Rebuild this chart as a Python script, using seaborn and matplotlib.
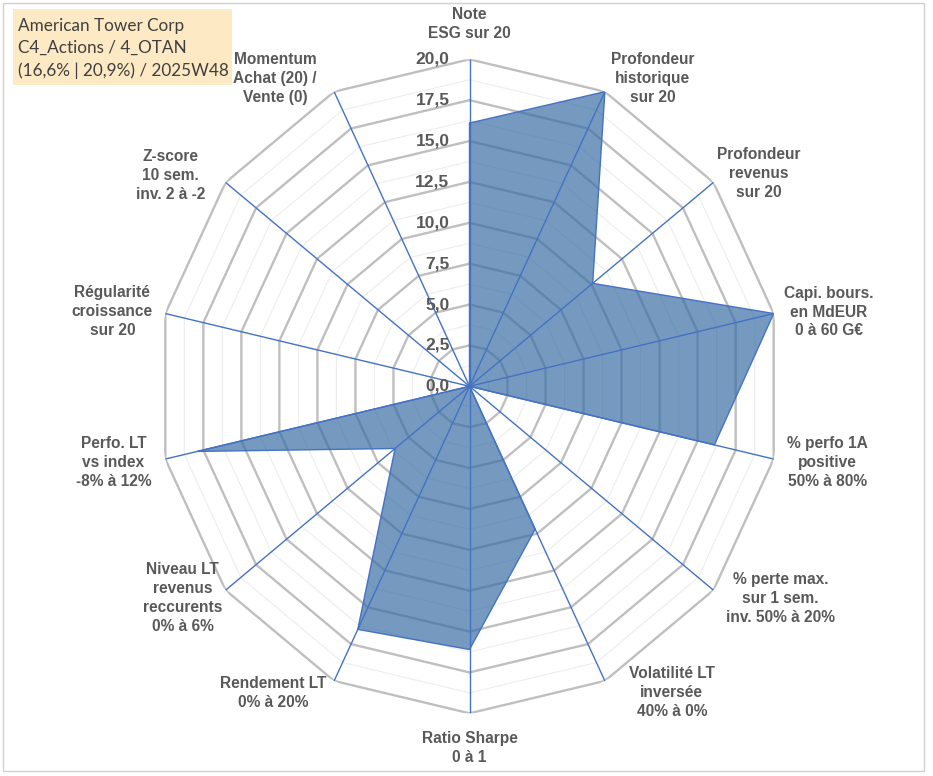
import numpy as np
import matplotlib
matplotlib.use("Agg")
import matplotlib.pyplot as plt
from matplotlib.patches import Rectangle
import seaborn as sns

# ---------------- data ----------------
categories = [
    "Note\nESG sur 20",
    "Profondeur\nhistorique\nsur 20",
    "Profondeur\nrevenus\nsur 20",
    "Capi. bours.\nen MdEUR\n0 à 60 G€",
    "% perfo 1A\npositive\n50% à 80%",
    "% perte max.\nsur 1 sem.\ninv. 50% à 20%",
    "Volatilité LT\ninversée\n40% à 0%",
    "Ratio Sharpe\n0 à 1",
    "Rendement LT\n0% à 20%",
    "Niveau LT\nrevenus\nreccurents\n0% à 6%",
    "Perfo. LT\nvs index\n-8% à 12%",
    "Régularité\ncroissance\nsur 20",
    "Z-score\n10 sem.\ninv. 2 à -2",
    "Momentum\nAchat (20) /\nVente (0)",
]
values = [16.1, 20.0, 10.1, 20.0, 16.1, 0.0, 9.7, 16.1, 16.5, 6.1, 17.9, 0.0, 0.0, 0.0]
tick_values = [0.0, 2.5, 5.0, 7.5, 10.0, 12.5, 15.0, 17.5, 20.0]
title_lines = ["American Tower Corp", "C4_Actions / 4_OTAN", "(16,6% | 20,9%) / 2025W48"]

# ---------------- layout / style (not data) ----------------
label_offsets_px = [(0, 35), (48, 13), (45, 9), (55, 1.5), (54, -3), (67, -8), (67, -12),
                    (0, -35), (-61, -12), (-43, -8), (-52, -3), (-53, 2), (-55, 7), (-59, 13)]

sns.set_theme(style="white")
plt.rcParams["font.family"] = ["Liberation Sans", "DejaVu Sans"]

W, H = 933, 776
fig = plt.figure(figsize=(W / 100, H / 100), dpi=100)
fig.patch.set_facecolor("white")

ax = fig.add_axes([157.5 / W, (H - 713.3) / H, 624 / W, 654 / H], projection="polar")
ax.set_aspect("auto")
ax.set_theta_zero_location("N")
ax.set_theta_direction(-1)
ax.set_ylim(0, 20)
ax.grid(False)
ax.spines["polar"].set_visible(False)
ax.set_xticks([])
ax.set_yticks([])
ax.patch.set_alpha(0)

n = len(categories)
theta = np.linspace(0, 2 * np.pi, n, endpoint=False)
theta_c = np.append(theta, theta[0])

# minor grid rings
for r in np.arange(1.25, 20, 2.5):
    ax.plot(theta_c, [r] * (n + 1), color="#EDEDED", lw=0.8, zorder=1)
# major grid rings
for r in tick_values[1:]:
    ax.plot(theta_c, [r] * (n + 1), color="#BFBFBF", lw=1.7, zorder=2,
            solid_joinstyle="miter")

# series fill
vals_c = np.append(values, values[0])
ax.fill(theta_c, vals_c, facecolor="#3A6EA5", alpha=0.70, zorder=3, lw=0)
ax.plot(theta_c, vals_c, color="#4472C4", lw=1.0, zorder=4)

# spokes
for t in theta:
    ax.plot([t, t], [0, 20], color="#4472C4", lw=1.0, zorder=5)

# radial tick labels
for v in tick_values:
    ax.annotate(f"{v:.1f}".replace(".", ","), xy=(0, v), xytext=(-20, 0),
                textcoords="offset pixels", ha="right", va="center",
                fontsize=12.5, fontweight="bold", color="#595959", zorder=6)

# category labels
for t, lab, (dx, dy) in zip(theta, categories, label_offsets_px):
    ax.annotate(lab, xy=(t, 20), xytext=(dx, dy), textcoords="offset pixels",
                ha="center", va="center", multialignment="center",
                fontsize=11.2, fontweight="bold", color="#595959",
                linespacing=1.33, annotation_clip=False)

# title box
fig.patches.append(Rectangle((13 / W, 1 - 85 / H), (232 - 13) / W, (85 - 9) / H,
                             transform=fig.transFigure, facecolor="#FDE9C3",
                             edgecolor="none", zorder=0))
fig.text(18 / W, 1 - 48.5 / H, "\n".join(title_lines), ha="left", va="center",
         fontsize=12.3, color="#404040", linespacing=1.45,
         family=["Lato", "DejaVu Sans"])

# outer frame
fig.patches.append(Rectangle((2.5 / W, 1 - 771 / H), (924 - 2.5) / W, (771 - 2.5) / H,
                             transform=fig.transFigure, facecolor="none",
                             edgecolor="#D0D0D0", lw=1.0, zorder=0))

fig.savefig("out.png", dpi=100)
